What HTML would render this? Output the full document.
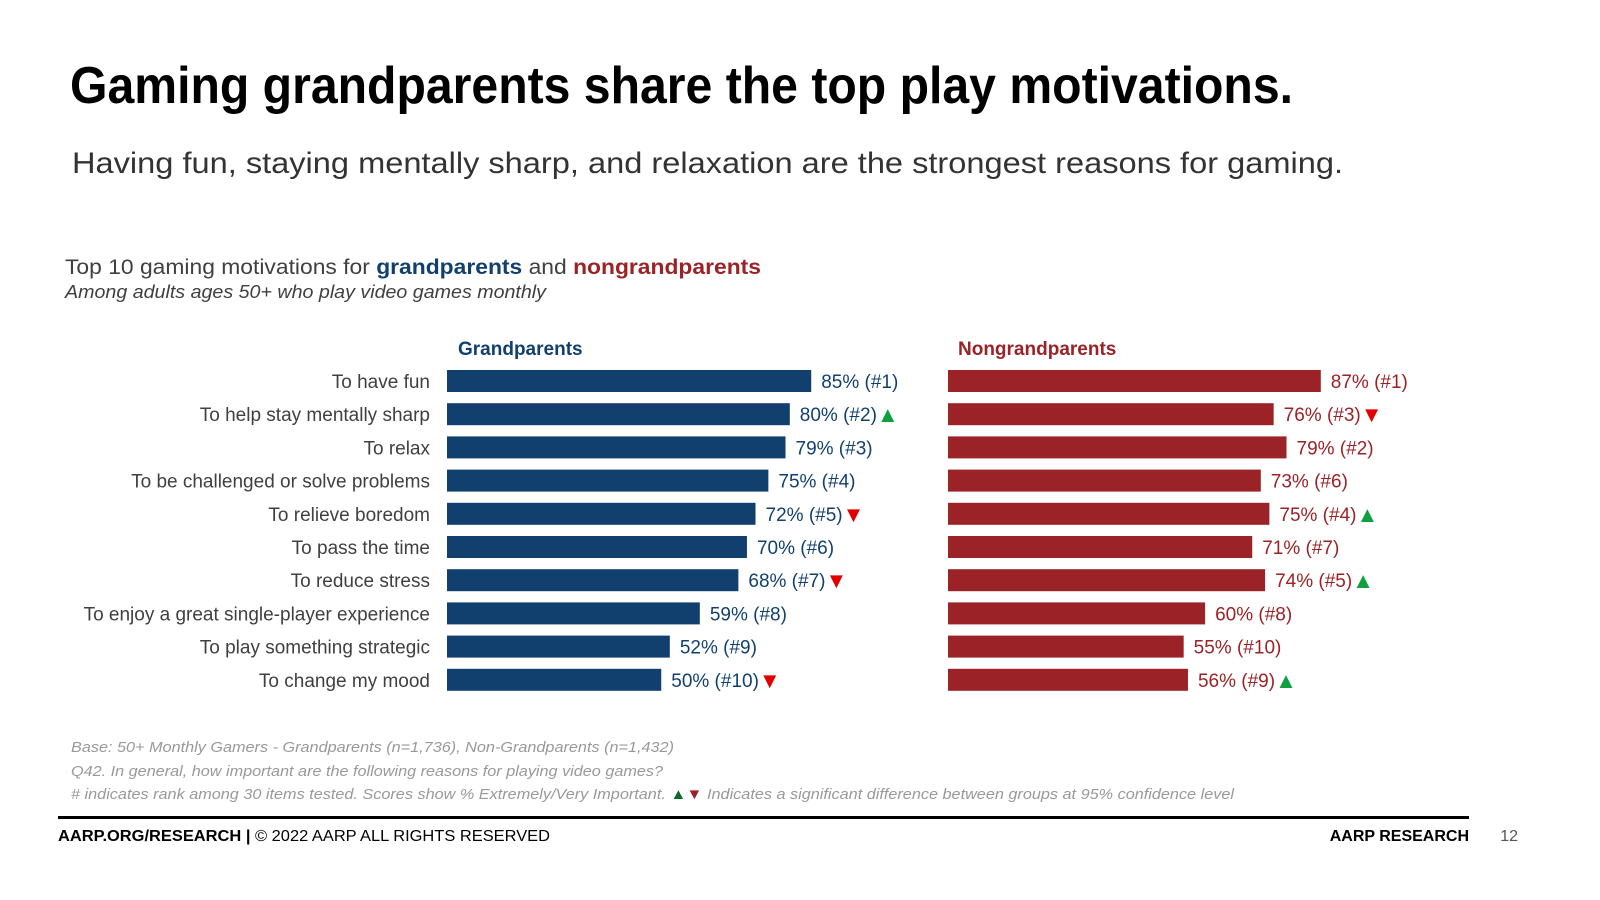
<!DOCTYPE html>
<html><head><meta charset="utf-8"><style>
html,body{margin:0;padding:0;background:#fff;}
svg{display:block;font-family:"Liberation Sans",Arial,sans-serif;}
</style></head><body>
<svg id="chart" width="1600" height="900" viewBox="0 0 1600 900" xmlns="http://www.w3.org/2000/svg">
<text x="70" y="103" font-size="52" font-weight="bold" fill="#000" textLength="1223" lengthAdjust="spacingAndGlyphs">Gaming grandparents share the top play motivations.</text>
<text x="72" y="173" font-size="30" fill="#333" textLength="1271" lengthAdjust="spacingAndGlyphs">Having fun, staying mentally sharp, and relaxation are the strongest reasons for gaming.</text>
<text x="65" y="274" font-size="21" fill="#404040" textLength="696" lengthAdjust="spacingAndGlyphs">Top 10 gaming motivations for <tspan font-weight="bold" fill="#12406e">grandparents</tspan> and <tspan font-weight="bold" fill="#9b2226">nongrandparents</tspan></text>
<text x="65" y="298" font-size="18" font-style="italic" fill="#404040" textLength="481" lengthAdjust="spacingAndGlyphs">Among adults ages 50+ who play video games monthly</text>
<text x="458" y="355" font-size="19" font-weight="bold" fill="#12406e">Grandparents</text>
<text x="958" y="355" font-size="19" font-weight="bold" fill="#9b2226">Nongrandparents</text>
<g id="bars"></g>
<g font-size="15" font-style="italic" fill="#999">
<text x="71" y="752" textLength="603" lengthAdjust="spacingAndGlyphs">Base: 50+ Monthly Gamers - Grandparents (n=1,736), Non-Grandparents (n=1,432)</text>
<text x="71" y="776" textLength="592" lengthAdjust="spacingAndGlyphs">Q42. In general, how important are the following reasons for playing video games?</text>
<text x="71" y="799" textLength="1163" lengthAdjust="spacingAndGlyphs"># indicates rank among 30 items tested. Scores show % Extremely/Very Important. <tspan fill="#0b6a2c" font-style="normal">▲</tspan><tspan fill="#9b2226" font-style="normal">▼</tspan> Indicates a significant difference between groups at 95% confidence level</text>
</g>
<rect x="58" y="816" width="1411" height="3" fill="#000"/>
<text x="58" y="841" font-size="16" fill="#000" textLength="492" lengthAdjust="spacingAndGlyphs"><tspan font-weight="bold">AARP.ORG/RESEARCH |</tspan> © 2022 AARP ALL RIGHTS RESERVED</text>
<text x="1469" y="841" font-size="16" font-weight="bold" text-anchor="end" fill="#000">AARP RESEARCH</text>
<text x="1518" y="841" font-size="16" text-anchor="end" fill="#555">12</text>
</svg>
<script>
const categories=["To have fun","To help stay mentally sharp","To relax","To be challenged or solve problems","To relieve boredom","To pass the time","To reduce stress","To enjoy a great single-player experience","To play something strategic","To change my mood"];
const grandValues=[85,80,79,75,72,70,68,59,52,50];
const grandRanks=[1,2,3,4,5,6,7,8,9,10];
const grandSig=["","up","","","down","","down","","","down"];
const nonValues=[87,76,79,73,75,71,74,60,55,56];
const nonRanks=[1,3,2,6,4,7,5,8,10,9];
const nonSig=["","down","","","up","","up","","","up"];

const NS="http://www.w3.org/2000/svg";
const g=document.getElementById('bars');
const pxPer=4.285, rowY0=381, rowStep=33.2, barH=22;
const xG=v=>447+v*pxPer, xN=v=>948+v*pxPer, yR=i=>rowY0+i*rowStep;
function mk(tag,attrs,txt){const e=document.createElementNS(NS,tag);for(const k in attrs)e.setAttribute(k,attrs[k]);if(txt!==undefined)e.textContent=txt;g.appendChild(e);return e;}
function addSeries(vals,ranks,sig,x0,xf,color,prefix){
  vals.forEach((v,i)=>{
    const b=mk('rect',{x:x0,y:yR(i)-barH/2,width:xf(v)-x0,height:barH,fill:color});
    
    
    const t=mk('text',{x:xf(v)+10,y:yR(i)+7,'font-size':19,fill:color},v+'% (#'+ranks[i]+')');
    
    
    if(sig[i]){
      const w=t.getComputedTextLength();
      const m=mk('text',{x:xf(v)+10+w,y:yR(i)+8,'font-size':22,fill:sig[i]==='up'?'#10a040':'#e00000'},sig[i]==='up'?'▲':'▼');
      
      
    }
  });
}
categories.forEach((c,i)=>{
  const t=mk('text',{x:430,y:yR(i)+7,'font-size':19,'text-anchor':'end',fill:'#404040'},c);
  
  
});
addSeries(grandValues,grandRanks,grandSig,447,xG,'#12406e','grandparents');
addSeries(nonValues,nonRanks,nonSig,948,xN,'#9b2226','nongrandparents');
</script>
</body></html>
